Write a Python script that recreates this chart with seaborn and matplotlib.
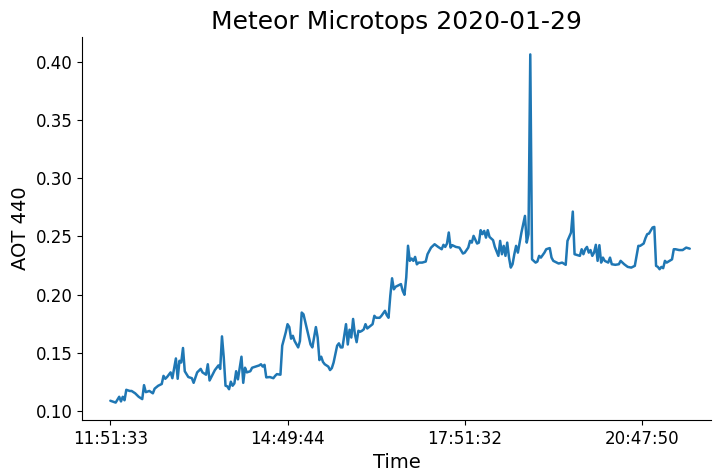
import numpy as np
import pandas as pd
import matplotlib
matplotlib.use("Agg")
import matplotlib.pyplot as plt
import seaborn as sns

# sample number (row in the Microtops log) and AOT at 440 nm
sample = [0, 3, 5, 6, 7, 8, 9, 11, 12, 14, 16, 18, 19, 20, 22, 24, 25, 27, 29, 30,
          31, 32, 34, 35, 37, 38, 39, 40, 41, 42, 44, 46, 47, 49, 51, 52, 54, 55, 56, 59,
          61, 62, 63, 64, 65, 66, 67, 68, 69, 70, 71, 72, 74, 75, 76, 77, 79, 80, 82, 84,
          85, 86, 87, 88, 90, 92, 93, 94, 96, 97, 99, 100, 101, 102, 103, 104, 106, 107, 108, 109,
          111, 113, 114, 115, 116, 117, 118, 119, 120, 121, 123, 124, 125, 126, 128, 129, 130, 131, 133, 134,
          135, 136, 137, 138, 139, 140, 141, 142, 143, 144, 145, 146, 148, 149, 150, 152, 153, 155, 156, 157,
          158, 159, 160, 161, 162, 164, 165, 166, 167, 168, 169, 170, 171, 172, 173, 174, 176, 178, 179, 180,
          181, 183, 185, 187, 188, 189, 190, 191, 192, 193, 195, 197, 199, 200, 202, 203, 204, 205, 207, 208,
          209, 210, 211, 212, 213, 214, 216, 217, 219, 220, 221, 222, 223, 224, 225, 226, 227, 228, 229, 230,
          232, 233, 234, 235, 236, 237, 238, 240, 241, 242, 243, 245, 246, 248, 249, 250, 253, 255, 257, 258,
          260, 261, 262, 265, 266, 267, 268, 269, 270, 271, 272, 273, 274, 275, 276, 277, 278, 279, 281, 282,
          283, 285, 287, 288, 290, 292, 294, 296, 298, 299, 301, 302, 303, 304, 306, 307, 308, 309, 310, 311,
          312, 313, 314, 315, 317, 318, 319, 321, 323, 325, 327]
aot_440 = [0.1086, 0.107, 0.112, 0.108, 0.112, 0.109, 0.118, 0.117, 0.117, 0.115, 0.112, 0.110, 0.122, 0.116, 0.117, 0.115, 0.119, 0.1215, 0.123, 0.130,
           0.1275, 0.129, 0.133, 0.128, 0.145, 0.1275, 0.143, 0.1415, 0.154, 0.134, 0.129, 0.128, 0.124, 0.133, 0.136, 0.133, 0.131, 0.140, 0.126, 0.135,
           0.139, 0.136, 0.164, 0.146, 0.1215, 0.121, 0.1185, 0.125, 0.1215, 0.1235, 0.134, 0.127, 0.1465, 0.124, 0.137, 0.133, 0.134, 0.137, 0.138, 0.139,
           0.140, 0.138, 0.1395, 0.1287, 0.129, 0.128, 0.130, 0.1315, 0.131, 0.156, 0.1675, 0.1745, 0.172, 0.162, 0.1645, 0.160, 0.1545, 0.160, 0.1845, 0.183,
           0.170, 0.157, 0.1545, 0.163, 0.172, 0.163, 0.1436, 0.1465, 0.142, 0.140, 0.138, 0.135, 0.1367, 0.1415, 0.156, 0.158, 0.1545, 0.1545, 0.1745, 0.157,
           0.1697, 0.163, 0.179, 0.166, 0.159, 0.1688, 0.168, 0.1688, 0.170, 0.1745, 0.1708, 0.172, 0.1745, 0.1817, 0.180, 0.180, 0.1817, 0.186, 0.1823, 0.180,
           0.199, 0.214, 0.2045, 0.2067, 0.2075, 0.209, 0.2032, 0.1998, 0.2147, 0.242, 0.229, 0.231, 0.229, 0.2324, 0.226, 0.2275, 0.2275, 0.2284, 0.2347, 0.2376,
           0.2404, 0.2433, 0.241, 0.239, 0.2428, 0.241, 0.2439, 0.2534, 0.2404, 0.2425, 0.241, 0.2404, 0.2353, 0.236, 0.2404, 0.2462, 0.2447, 0.2505, 0.2439, 0.2447,
           0.2554, 0.252, 0.2548, 0.249, 0.2554, 0.2496, 0.2468, 0.241, 0.2333, 0.2462, 0.2347, 0.2419, 0.2333, 0.2447, 0.2318, 0.2232, 0.2261, 0.2347, 0.2419, 0.2361,
           0.2533, 0.2606, 0.2677, 0.2447, 0.252, 0.4067, 0.2303, 0.2275, 0.2284, 0.2333, 0.2318, 0.2361, 0.239, 0.240, 0.2318, 0.229, 0.2267, 0.2275, 0.2256, 0.2462,
           0.2533, 0.2714, 0.2347, 0.2333, 0.239, 0.2347, 0.239, 0.241, 0.2361, 0.2383, 0.2333, 0.2361, 0.2428, 0.229, 0.2425, 0.2275, 0.2318, 0.229, 0.2275, 0.2318,
           0.2261, 0.2256, 0.2261, 0.229, 0.2261, 0.2238, 0.2232, 0.2247, 0.2419, 0.2419, 0.2439, 0.2485, 0.252, 0.2525, 0.2577, 0.2582, 0.2247, 0.2238, 0.2218, 0.2238,
           0.2227, 0.229, 0.2275, 0.2284, 0.2303, 0.239, 0.239, 0.2383, 0.2383, 0.2404, 0.2395]

# every 100th sample gets its time label
tick_samples = [0, 100, 200, 300]
tick_times = ["11:51:33", "14:49:44", "17:51:32", "20:47:50"]

df = pd.DataFrame({"sample": sample, "AOT 440": aot_440})

sns.set_style("ticks", {"axes.edgecolor": "black", "text.color": "black",
                        "axes.labelcolor": "black", "xtick.color": "black",
                        "ytick.color": "black"})
fig = plt.figure(figsize=(7.14, 4.73), dpi=100)
ax = fig.add_axes([82 / 714, 53 / 473, 629 / 714, 383 / 473])

sns.lineplot(data=df, x="sample", y="AOT 440", ax=ax, color="#1f77b4", linewidth=1.8)

ax.set_xticks(tick_samples)
ax.set_xticklabels(tick_times)
ax.set_xlim(sample[0] - 16, sample[-1] + 12)
ax.tick_params(labelsize=12)
ax.set_xlabel("Time", fontsize=14)
ax.set_ylabel("AOT 440", fontsize=14)
ax.set_title("Meteor Microtops 2020-01-29", fontsize=18)
sns.despine(ax=ax)

fig.savefig("out.png", dpi=100)
